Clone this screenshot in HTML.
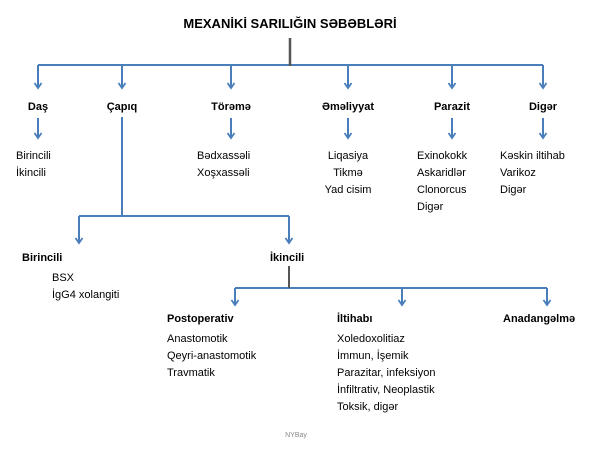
<!DOCTYPE html>
<html><head><meta charset="utf-8"><style>
html,body{margin:0;padding:0;background:#fff;}
svg{display:block}
text{font-family:"Liberation Sans","DejaVu Sans",sans-serif;font-size:11px;fill:#000}
.b{font-weight:bold}
</style></head><body>
<svg width="600" height="450" viewBox="0 0 600 450" xmlns="http://www.w3.org/2000/svg">
<defs><marker id="a" markerWidth="10" markerHeight="10" refX="6" refY="4.5" orient="auto" markerUnits="userSpaceOnUse"><path d="M1,1 L6,4.5 L1,8" fill="none" stroke="#4a7ebb" stroke-width="1.8"/></marker></defs>
<text x="290" y="28" text-anchor="middle" class="b" style="font-size:13px">MEXANİKİ SARILIĞIN SƏBƏBLƏRİ</text>
<g stroke="#4a7ebb" stroke-width="2" fill="none">
<line x1="38" y1="65" x2="543" y2="65"/>
<line x1="38" y1="65" x2="38" y2="88" marker-end="url(#a)"/>
<line x1="122" y1="65" x2="122" y2="88" marker-end="url(#a)"/>
<line x1="231" y1="65" x2="231" y2="88" marker-end="url(#a)"/>
<line x1="348" y1="65" x2="348" y2="88" marker-end="url(#a)"/>
<line x1="452" y1="65" x2="452" y2="88" marker-end="url(#a)"/>
<line x1="543" y1="65" x2="543" y2="88" marker-end="url(#a)"/>
<line x1="38" y1="118" x2="38" y2="138" marker-end="url(#a)"/>
<line x1="231" y1="118" x2="231" y2="138" marker-end="url(#a)"/>
<line x1="348" y1="118" x2="348" y2="138" marker-end="url(#a)"/>
<line x1="452" y1="118" x2="452" y2="138" marker-end="url(#a)"/>
<line x1="543" y1="118" x2="543" y2="138" marker-end="url(#a)"/>
<line x1="122" y1="117" x2="122" y2="216"/>
<line x1="79" y1="216" x2="289" y2="216"/>
<line x1="79" y1="216" x2="79" y2="243" marker-end="url(#a)"/>
<line x1="289" y1="216" x2="289" y2="243" marker-end="url(#a)"/>
<line x1="235" y1="288" x2="547" y2="288"/>
<line x1="235" y1="288" x2="235" y2="305" marker-end="url(#a)"/>
<line x1="402" y1="288" x2="402" y2="305" marker-end="url(#a)"/>
<line x1="547" y1="288" x2="547" y2="305" marker-end="url(#a)"/>
</g>
<line x1="290" y1="38" x2="290" y2="66" stroke="#555" stroke-width="2.5"/>
<line x1="289" y1="266" x2="289" y2="288" stroke="#555" stroke-width="2"/>
<text class="b" x="38" y="110" text-anchor="middle">Daş</text>
<text class="b" x="122" y="110" text-anchor="middle">Çapıq</text>
<text class="b" x="231" y="110" text-anchor="middle">Törəmə</text>
<text class="b" x="348" y="110" text-anchor="middle">Əməliyyat</text>
<text class="b" x="452" y="110" text-anchor="middle">Parazit</text>
<text class="b" x="543" y="110" text-anchor="middle">Digər</text>
<text class="b" x="22" y="261">Birincili</text>
<text class="b" x="270" y="261">İkincili</text>
<text class="b" x="167" y="322">Postoperativ</text>
<text class="b" x="337" y="322">İltihabı</text>
<text class="b" x="503" y="322">Anadangəlmə</text>
<text x="16" y="159">Birincili</text><text x="16" y="176">İkincili</text>
<text x="197" y="159">Bədxassəli</text><text x="197" y="176">Xoşxassəli</text>
<text x="348" y="159" text-anchor="middle">Liqasiya</text><text x="348" y="176" text-anchor="middle">Tikmə</text><text x="348" y="193" text-anchor="middle">Yad cisim</text>
<text x="417" y="159">Exinokokk</text><text x="417" y="176">Askaridlər</text><text x="417" y="193">Clonorcus</text><text x="417" y="210">Digər</text>
<text x="500" y="159">Kəskin iltihab</text><text x="500" y="176">Varikoz</text><text x="500" y="193">Digər</text>
<text x="52" y="281">BSX</text><text x="52" y="298">İgG4 xolangiti</text>
<text x="167" y="342">Anastomotik</text><text x="167" y="359">Qeyri-anastomotik</text><text x="167" y="376">Travmatik</text>
<text x="337" y="342">Xoledoxolitiaz</text><text x="337" y="359">İmmun, İşemik</text><text x="337" y="376">Parazitar,  infeksiyon</text><text x="337" y="393">İnfiltrativ, Neoplastik</text><text x="337" y="410">Toksik, digər</text>
<text x="296" y="437" text-anchor="middle" style="font-size:7px;fill:#888">NYBay</text>
</svg>
</body></html>
